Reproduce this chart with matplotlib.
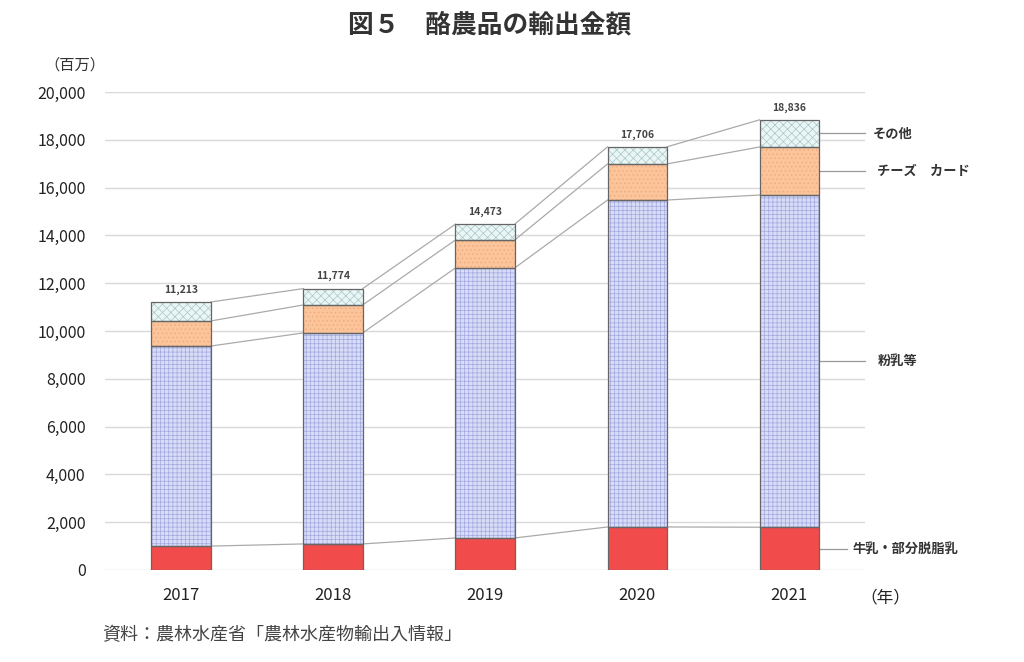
import matplotlib.pyplot as plt
import numpy as np

plt.rcParams['font.family'] = ['Noto Sans CJK JP', 'DejaVu Sans']

years = ['2017', '2018', '2019', '2020', '2021']
milk = [1000, 1090, 1340, 1800, 1790]
powder = [8370, 8830, 11300, 13680, 13900]
cheese = [1050, 1170, 1170, 1510, 2010]
totals = [11213, 11774, 14473, 17706, 18836]
other = [t - a - b - c for t, a, b, c in zip(totals, milk, powder, cheese)]
labels = ['牛乳・部分脱脂乳', '粉乳等', 'チーズ　カード', 'その他']

series = [milk, powder, cheese, other]
faces = ['#f24b4b', '#d8dcf6', '#fcc49a', '#eaf6f5']
hatches = [None, '++++', '....', 'xxxx']
hcolors = ['#f24b4b', '#a2a9e0', '#eeaa7c', '#a9c6c6']
ends = [4.38, 4.5, 4.5, 4.5]
textx = [4.42, 4.58, 4.58, 4.55]

fig = plt.figure(figsize=(10.24, 6.62), dpi=100)
ax = fig.add_axes([0.1025, 0.139, 0.7425, 0.722])

x = np.arange(len(years))
w = 0.39
bottom = np.zeros(len(years))
tops = []
plt.rcParams['hatch.linewidth'] = 0.5
for vals, fc, h, hc in zip(series, faces, hatches, hcolors):
    vals = np.array(vals)
    ax.bar(x, vals, w, bottom=bottom, color=fc, hatch=h, edgecolor=hc, lw=0, zorder=3)
    ax.bar(x, vals, w, bottom=bottom, fill=False, edgecolor='#666666', lw=0.9, zorder=4)
    mids = bottom + vals / 2
    bottom = bottom + vals
    tops.append((bottom.copy(), mids))

# connecting lines between bars
for top, mid in tops:
    for i in range(len(years) - 1):
        ax.plot([x[i] + w / 2, x[i + 1] - w / 2], [top[i], top[i + 1]],
                color='#aaaaaa', lw=0.9, zorder=2)

# leader lines and labels on right
for (top, mid), lab, e, tx in zip(tops, labels, ends, textx):
    ax.plot([x[-1] + w / 2, e], [mid[-1], mid[-1]], color='#999999', lw=0.9,
            clip_on=False, zorder=2)
    ax.text(tx, mid[-1], lab, va='center', ha='left', fontsize=9.5,
            fontweight='bold', color='#333333')

for xi, t in zip(x, totals):
    ax.text(xi, t + 300, f'{t:,}', ha='center', va='bottom', fontsize=7.5,
            fontweight='bold', color='#444444')

ax.set_xlim(-0.5, 4.5)
ax.set_ylim(0, 20000)
ax.set_yticks(range(0, 20001, 2000))
ax.set_yticklabels([f'{v:,}' for v in range(0, 20001, 2000)], fontsize=11.5, color='#222222')
ax.set_xticks(x)
ax.set_xticklabels(years, fontsize=12, color='#222222')
ax.tick_params(length=0, axis='y', pad=14)
ax.tick_params(length=0, axis='x', pad=12)
ax.grid(axis='y', color='#d9d9d9', lw=1, zorder=0)
ax.set_axisbelow(True)
for s in ax.spines.values():
    s.set_visible(False)

fig.text(0.478, 0.962, '図５　酪農品の輸出金額', ha='center', va='center',
         fontsize=18.5, fontweight='bold', color='#333333')
fig.text(0.073, 0.902, '（百万）', ha='center', va='center', fontsize=11, color='#333333')
fig.text(0.84, 0.097, '（年）', ha='left', va='center', fontsize=12, color='#222222')
fig.text(0.1, 0.04, '資料：農林水産省「農林水産物輸出入情報」', ha='left', va='center',
         fontsize=13, color='#444444')

fig.savefig('out.png', dpi=100)
